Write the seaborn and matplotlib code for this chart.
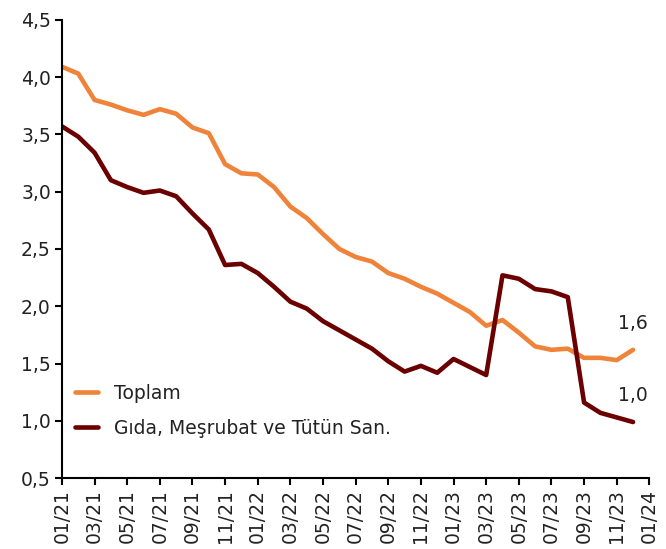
import pandas as pd
import numpy as np
import matplotlib.pyplot as plt
import seaborn as sns
from matplotlib.ticker import FuncFormatter

# aylar: 01/21 - 12/23
months = pd.date_range("2021-01-01", "2023-12-01", freq="MS")
toplam = [4.09, 4.03, 3.80, 3.76, 3.71, 3.67, 3.72, 3.68, 3.56, 3.51, 3.24, 3.16,
          3.15, 3.04, 2.87, 2.77, 2.63, 2.50, 2.43, 2.39, 2.29, 2.24, 2.17, 2.11,
          2.03, 1.95, 1.83, 1.88, 1.77, 1.65, 1.62, 1.63, 1.55, 1.55, 1.53, 1.62]
gida = [3.57, 3.48, 3.34, 3.10, 3.04, 2.99, 3.01, 2.96, 2.81, 2.67, 2.36, 2.37,
        2.29, 2.17, 2.04, 1.98, 1.87, 1.79, 1.71, 1.63, 1.52, 1.43, 1.48, 1.42,
        1.54, 1.47, 1.40, 2.27, 2.24, 2.15, 2.13, 2.08, 1.16, 1.07, 1.03, 0.99]
series_names = ["Toplam", "Gıda, Meşrubat ve Tütün San."]
tick_labels = [f"{m:02d}/{y}" for y in (21, 22, 23) for m in range(1, 13, 2)] + ["01/24"]
end_labels = ["1,6", "1,0"]

sns.set_style("white")
plt.rcParams['font.family'] = ['DejaVu Sans']
fs = 13.5

df = pd.DataFrame({"t": np.arange(len(months)), series_names[0]: toplam, series_names[1]: gida})
long_df = df.melt(id_vars="t", var_name="seri", value_name="deger")

fig = plt.figure(figsize=(6.66, 5.49), dpi=100)
ax = fig.add_axes([0.093, 0.129, 0.882, 0.835])
sns.lineplot(data=long_df, x="t", y="deger", hue="seri", hue_order=series_names,
             palette=["#F0833A", "#6B0000"], linewidth=3.3, ax=ax)

ax.set_xlim(0, 36)
ax.set_ylim(0.5, 4.5)
ax.set_xticks(np.arange(0, 37, 2))
ax.set_xticklabels(tick_labels, rotation=90)
ax.set_yticks(np.arange(0.5, 4.51, 0.5))
ax.yaxis.set_major_formatter(FuncFormatter(lambda v, p: f"{v:.1f}".replace(".", ",")))
ax.tick_params(axis="both", labelsize=fs, direction="out", length=5, width=1.5,
               color="black", bottom=True, left=True, labelcolor="#222222", pad=3)
ax.set_xlabel("")
ax.set_ylabel("")
sns.despine(ax=ax)
for s in ["left", "bottom"]:
    ax.spines[s].set_color("black")
    ax.spines[s].set_linewidth(1.5)

ax.annotate(end_labels[0], (35, toplam[-1]), xytext=(0, 12), textcoords="offset points",
            ha="center", va="bottom", fontsize=fs, color="#222222")
ax.annotate(end_labels[1], (35, gida[-1]), xytext=(0, 12), textcoords="offset points",
            ha="center", va="bottom", fontsize=fs, color="#222222")

leg = ax.legend(loc="lower left", frameon=False, fontsize=fs, handlelength=1.2,
                handletextpad=0.9, labelspacing=0.85,
                bbox_to_anchor=(0.0, 0.06), borderaxespad=0.3)
for t in leg.get_texts():
    t.set_color("#222222")

plt.savefig("out.png", dpi=100)
